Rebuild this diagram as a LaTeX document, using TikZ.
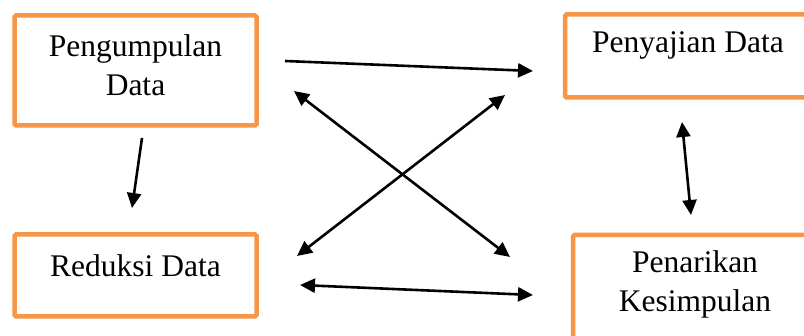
\documentclass[tikz,border=0pt]{standalone}
\usepackage{fontspec}
\setmainfont{Liberation Serif}
\usetikzlibrary{arrows.meta}
\definecolor{boxorange}{HTML}{F79646}
\begin{document}
\begin{tikzpicture}[x=1pt,y=-1pt,
  procbox/.style={draw=boxorange, line width=4.5pt, fill=white, rounded corners=1.5pt, inner sep=0pt},
  lbl/.style={align=center, font=\fontsize{31.5}{39}\selectfont, inner sep=0pt},
  arr/.style={line width=2.6pt, -{Triangle[length=15pt,width=14pt]}},
  darr/.style={line width=2.6pt, {Triangle[length=15pt,width=14pt]}-{Triangle[length=15pt,width=14pt]}}]
\useasboundingbox (0,0) rectangle (804,336);
\clip (0,0) rectangle (804,336);
\fill[white] (0,0) rectangle (804,336);
% boxes
\node[procbox, minimum width=242pt, minimum height=110pt] (b1) at (135.5,70.5) {};
\node[lbl] (t1) at (135.5,65) {Pengumpulan\\Data};
\node[procbox, minimum width=248pt, minimum height=83pt] (b2) at (689,56) {};
\node[lbl] (t2) at (688,45) {Penyajian Data};
\node[procbox, minimum width=242pt, minimum height=82pt] (b3) at (135.5,275.5) {};
\node[lbl] (t3) at (135.5,266) {Reduksi Data};
\node[procbox, minimum width=248pt, minimum height=120pt] (b4) at (697,295) {};
\node[lbl] (t4) at (695,284) {Penarikan\\Kesimpulan};
% arrow end points
\coordinate (p1s) at (285,61);  \coordinate (p1e) at (533,71);
\coordinate (p2s) at (294,91);  \coordinate (p2e) at (510,257);
\coordinate (p3s) at (505,95);  \coordinate (p3e) at (297,256);
\coordinate (p4s) at (300,285); \coordinate (p4e) at (533,295);
\coordinate (p5s) at (142,138); \coordinate (p5e) at (132,208);
\coordinate (p6s) at (682,122); \coordinate (p6e) at (691,215);
% connectors
\draw[arr] (p1s) -- (p1e);
\draw[darr] (p2s) -- (p2e);
\draw[darr] (p3s) -- (p3e);
\draw[darr] (p4s) -- (p4e);
\draw[arr] (p5s) -- (p5e);
\draw[darr] (p6s) -- (p6e);
\end{tikzpicture}
\end{document}
